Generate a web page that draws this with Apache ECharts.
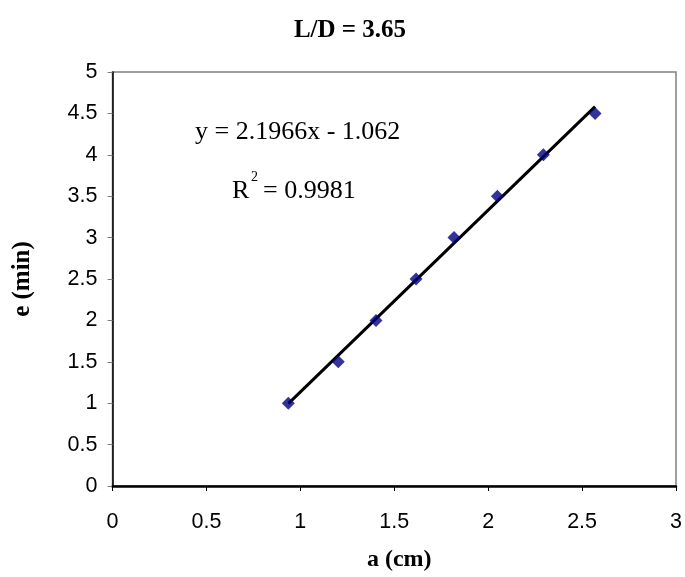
<!DOCTYPE html>
<html><head><meta charset="utf-8">
<script src="https://cdn.jsdelivr.net/npm/echarts@6/dist/echarts.min.js"></script>
<style>html,body{margin:0;padding:0;background:#fff}#c{width:685px;height:577px}</style>
</head><body><div id="c"></div>
<script>
const xValues = [0.936, 1.202, 1.403, 1.616, 1.818, 2.049, 2.294, 2.569];
const yValues = [1.0, 1.5, 2.0, 2.5, 3.0, 3.5, 4.0, 4.5];
const slope = 2.1966, intercept = -1.062;
const titleText = 'L/D = 3.65';
const xName = 'a (cm)', yName = 'e (min)';
const eqText = 'y = 2.1966x - 1.062';
const r2Value = '= 0.9981';

const pts = xValues.map((x, i) => [x, yValues[i]]);
const xmin = Math.min(...xValues), xmax = Math.max(...xValues);
const trend = [[xmin, slope * xmin + intercept], [xmax, slope * xmax + intercept]];

const chart = echarts.init(document.getElementById('c'));
const serif = 'Liberation Serif';
const sans = 'Liberation Sans';
chart.setOption({
  animation: false,
  title: {text: titleText, left: 345, top: 13, textAlign: 'center',
    textStyle: {fontFamily: serif, fontWeight: 'bold', fontSize: 25, color: '#000'}},
  grid: {left: 112.5, right: 9, top: 72, bottom: 91, show: true, borderColor: '#808080', borderWidth: 1.5},
  xAxis: {type: 'value', min: 0, max: 3, interval: 0.5,
    name: xName, nameLocation: 'middle', nameGap: 62,
    nameTextStyle: {fontFamily: serif, fontWeight: 'bold', fontSize: 24, color: '#000', padding: [0, 0, 0, 10]},
    axisLine: {onZero: false, lineStyle: {color: '#000', width: 2.5}},
    axisTick: {inside: false, length: 5, lineStyle: {color: '#000'}},
    axisLabel: {fontFamily: sans, fontSize: 21.5, color: '#000', margin: 25},
    splitLine: {show: false}},
  yAxis: {type: 'value', min: 0, max: 5, interval: 0.5,
    name: yName, nameLocation: 'middle', nameGap: 77,
    nameTextStyle: {fontFamily: serif, fontWeight: 'bold', fontSize: 25, color: '#000'},
    axisLine: {onZero: false, lineStyle: {color: '#000', width: 1.5}},
    axisTick: {inside: false, length: 5, lineStyle: {color: '#808080'}},
    axisLabel: {fontFamily: sans, fontSize: 21.5, color: '#000', margin: 15},
    splitLine: {show: false}},
  series: [
    {type: 'line', data: trend, symbol: 'none', lineStyle: {color: '#000', width: 3}, z: 2},
    {type: 'scatter', data: pts, symbol: 'diamond', symbolSize: 13, itemStyle: {color: '#000080'}, z: 3}
  ],
  graphic: [
    {type: 'text', left: 195, top: 119, style: {text: eqText, fontFamily: serif, fontSize: 26, fill: '#000'}},
    {type: 'text', left: 232, top: 178, style: {text: 'R', fontFamily: serif, fontSize: 26, fill: '#000'}},
    {type: 'text', left: 251, top: 170, style: {text: '2', fontFamily: serif, fontSize: 14, fill: '#000'}},
    {type: 'text', left: 263, top: 178, style: {text: r2Value, fontFamily: serif, fontSize: 26, fill: '#000'}}
  ]
});
</script></body></html>
